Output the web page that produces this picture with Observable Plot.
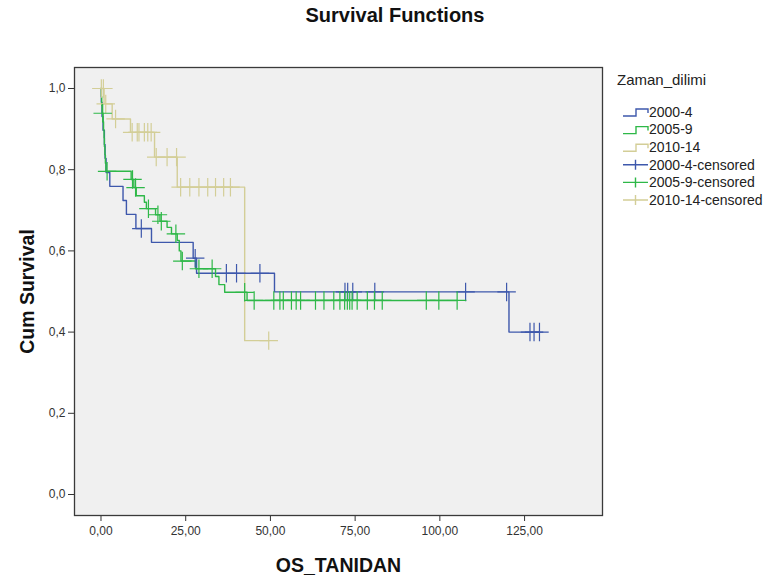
<!DOCTYPE html>
<html>
<head>
<meta charset="utf-8">
<script src="https://cdn.jsdelivr.net/npm/d3@7"></script>
<script src="https://cdn.jsdelivr.net/npm/@observablehq/plot@0.6"></script>
<style>
  html, body { margin: 0; padding: 0; background: #fff; }
  #wrap { position: relative; width: 771px; height: 581px; font-family: "Liberation Sans", Arial, sans-serif; }
  #title { position: absolute; left: 0; top: 4px; width: 790px; text-align: center; font-weight: bold; font-size: 20px; color: #111; }
  #chart { position: absolute; left: 0; top: 0; }
  #legend { position: absolute; left: 610px; top: 60px; }
</style>
</head>
<body>
<div id="wrap">
  <div id="chart"></div>
  <div id="title">Survival Functions</div>
  <div id="legend"></div>
</div>
<script>
// ---- data ----
const groups = ["2000-4", "2005-9", "2010-14"];
const colors = ["#3E58AC", "#2EB848", "#D3CE97"];

// 2000-4 : event times and survival after each step
const blueT = [0, 0.1, 0.3, 0.6, 1.0, 1.2, 1.5, 2.6, 6.5, 7.5, 10.3, 14.9, 27.2, 28.2, 51.2, 120.4];
const blueS = [1, 0.966, 0.931, 0.897, 0.862, 0.828, 0.793, 0.759, 0.724, 0.690, 0.655, 0.621, 0.582, 0.545, 0.499, 0.400];
const blueCens = [11.9, 27.8, 37.0, 40.0, 46.9, 72.0, 72.8, 74.3, 80.8, 107.6, 119.7, 126.6, 127.8, 129.4];

// 2005-9
const greenT = [0, 0.1, 0.2, 0.35, 0.6, 0.75, 0.9, 1.0, 1.15, 1.3, 1.45, 8.9, 9.7, 10.4, 12.8, 13.4, 16.1, 17.4, 19.5, 20.8, 22.5, 23.1, 23.6, 27.9, 33.8, 34.8, 36.5, 43.1];
const greenS = [1, 0.980, 0.959, 0.939, 0.918, 0.898, 0.878, 0.857, 0.837, 0.816, 0.796, 0.776, 0.756, 0.736, 0.720, 0.704, 0.689, 0.673, 0.658, 0.642, 0.626, 0.600, 0.575, 0.556, 0.537, 0.517, 0.498, 0.478];
const greenCens = [0.5, 1.8, 9.3, 10.2, 14.0, 16.8, 17.8, 22.1, 24.0, 28.9, 32.8, 42.4, 45.2, 51.0, 52.8, 53.8, 56.2, 57.6, 58.9, 63.3, 65.8, 68.7, 70.5, 71.9, 72.7, 73.4, 74.1, 75.6, 78.6, 80.7, 83.0, 96.0, 99.7, 105.1];

// 2010-14
const yellowT = [0, 0.9, 3.3, 8.7, 15.8, 22.5, 42.4];
const yellowS = [1, 0.962, 0.925, 0.892, 0.831, 0.757, 0.379];
const yellowCens = [0.1, 0.7, 1.4, 4.3, 9.2, 10.7, 11.2, 12.8, 13.8, 14.8, 16.3, 19.5, 22.3, 23.5, 26.2, 28.9, 31.5, 33.8, 36.2, 38.2, 49.5];

const xTicks = [0, 25, 50, 75, 100, 125];
const yTicks = [0, 0.2, 0.4, 0.6, 0.8, 1.0];
const legendLabels = ["2000-4", "2005-9", "2010-14", "2000-4-censored", "2005-9-censored", "2010-14-censored"];

// ---- build tables ----
function stepRows(T, S, cens) {
  const rows = T.map((t, i) => ({t, s: S[i]}));
  const end = Math.max(...cens);
  if (end > T[T.length - 1]) rows.push({t: end, s: S[S.length - 1]});
  return rows;
}
function censRows(T, S, cens) {
  return cens.map(c => {
    let k = 0;
    for (let i = 0; i < T.length; i++) if (T[i] <= c) k = i;
    return {t: c, s: S[k]};
  });
}
const series = [
  {T: blueT, S: blueS, C: blueCens},
  {T: greenT, S: greenS, C: greenCens},
  {T: yellowT, S: yellowS, C: yellowCens}
];
const lines = series.map(d => stepRows(d.T, d.S, d.C));
const cens = series.map(d => censRows(d.T, d.S, d.C));

const order = [2, 0, 1];
const marks = [Plot.frame({fill: "#F0F0F0", stroke: "none"})];
for (const i of order) {
  marks.push(Plot.line(lines[i], {x: "t", y: "s", curve: "step-after", stroke: colors[i], strokeWidth: 1.4}));
}
for (const i of order) {
  marks.push(Plot.dot(cens[i], {x: "t", y: "s", symbol: "plus", r: 6, stroke: colors[i], strokeWidth: 1.2}));
}
marks.push(Plot.frame({stroke: "#3a3a3a", strokeWidth: 1.3}));
marks.push(Plot.text(["OS_TANIDAN"], {frameAnchor: "bottom", dy: 50, text: d => d, textAnchor: "middle", lineAnchor: "middle", fontWeight: "bold", fontSize: 19.5, fill: "#111"}));
marks.push(Plot.text(["Cum Survival"], {frameAnchor: "left", dx: -47, rotate: -90, text: d => d, textAnchor: "middle", lineAnchor: "middle", fontWeight: "bold", fontSize: 19.5, fill: "#111"}));

const chart = Plot.plot({
  width: 771,
  height: 581,
  marginTop: 67,
  marginRight: 169,
  marginBottom: 66,
  marginLeft: 74,
  style: {fontFamily: "Liberation Sans, Arial, sans-serif", fontSize: "12px", color: "#333", background: "transparent", overflow: "visible"},
  x: {domain: [-7.82, 148], ticks: xTicks, tickFormat: d => d.toFixed(2).replace(".", ","), tickSize: 6, tickPadding: 5, label: null},
  y: {domain: [-0.0517, 1.0517], ticks: yTicks, tickFormat: d => d.toFixed(1).replace(".", ","), tickSize: 6, tickPadding: 3, label: null},
  marks
});
document.getElementById("chart").appendChild(chart);

// ---- legend ----
const ns = "http://www.w3.org/2000/svg";
const lg = document.createElementNS(ns, "svg");
lg.setAttribute("width", 161);
lg.setAttribute("height", 160);
lg.style.fontFamily = "Liberation Sans, Arial, sans-serif";
let html = `<text x="7" y="25" font-size="15" fill="#222">Zaman_dilimi</text>`;
legendLabels.forEach((lab, i) => {
  const cy = 52 + i * 17.6;
  const col = colors[i % 3];
  if (i < 3) {
    html += `<path d="M13,${cy + 4} H26 V${cy - 3} H38 V${cy + 1}" fill="none" stroke="${col}" stroke-width="1.4"/>`;
  } else {
    html += `<path d="M13,${cy} H38 M25.5,${cy - 5} V${cy + 5}" fill="none" stroke="${col}" stroke-width="1.4"/>`;
  }
  html += `<text x="39" y="${cy + 4.8}" font-size="14" fill="#222">${lab}</text>`;
});
lg.innerHTML = html;
document.getElementById("legend").appendChild(lg);
</script>
</body>
</html>
